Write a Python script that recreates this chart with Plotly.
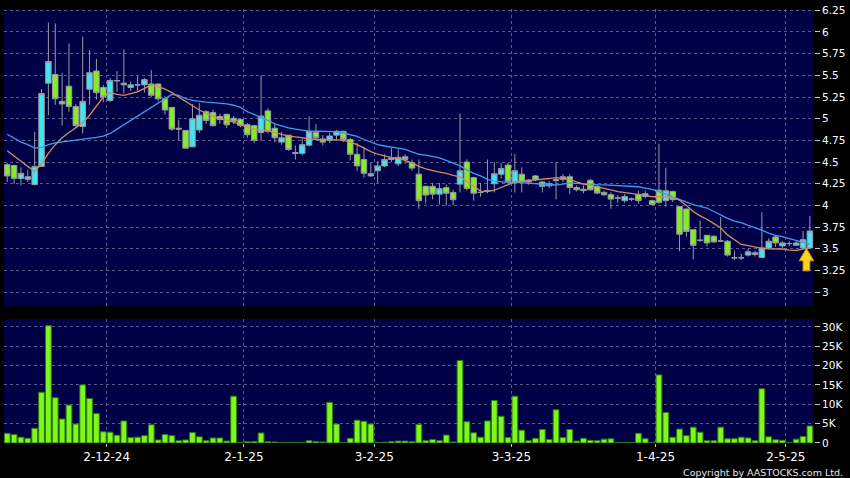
import plotly.graph_objects as go

# ---------------- data ----------------
opens = [4.47, 4.46, 4.31, 4.33, 4.24, 4.45, 5.41, 5.51, 5.20, 5.375,
         5.14, 4.91, 5.34, 5.55, 5.36, 5.21, 5.435, 5.41, 5.36, 5.39,
         5.39, 5.40, 5.40, 5.23, 5.13, 4.89, 4.865, 4.675, 4.87, 5.08,
         5.07, 5.025, 5.05, 5.005, 4.99, 4.93, 4.92, 4.84, 5.09, 4.89,
         4.73, 4.81, 4.61, 4.60, 4.695, 4.84, 4.765, 4.75, 4.81, 4.855,
         4.76, 4.59, 4.53, 4.34, 4.40, 4.455, 4.53, 4.48, 4.56, 4.49,
         4.36, 4.22, 4.22, 4.13, 4.205, 4.15, 4.245, 4.50, 4.32, 4.15,
         4.17, 4.25, 4.36, 4.465, 4.275, 4.36, 4.29, 4.34, 4.27, 4.226,
         4.30, 4.30, 4.33, 4.207, 4.187, 4.29, 4.218, 4.15, 4.123, 4.085,
         4.055, 4.073, 4.123, 4.104, 4.055, 4.176, 4.055, 4.161, 3.986, 3.959,
         3.72, 3.598, 3.655, 3.644, 3.59, 3.587, 3.396, 3.396, 3.427, 3.434,
         3.40, 3.51, 3.636, 3.533, 3.56, 3.541, 3.51, 3.51]
highs = [4.49, 4.47, 4.44, 4.41, 4.85, 5.34, 6.11, 6.10, 5.53, 5.87,
         5.17, 5.945, 5.79, 5.69, 5.39, 5.47, 5.55, 5.80, 5.43, 5.49,
         5.47, 5.56, 5.40, 5.26, 5.13, 4.99, 4.87, 5.17, 5.18, 5.10,
         5.10, 5.06, 5.06, 5.03, 5.00, 4.95, 4.93, 5.50, 5.12, 4.94,
         4.85, 4.81, 4.69, 4.77, 5.025, 4.94, 4.81, 4.84, 4.87, 4.86,
         4.78, 4.72, 4.68, 4.49, 4.51, 4.59, 4.66, 4.66, 4.59, 4.53,
         4.53, 4.23, 4.26, 4.26, 4.24, 4.18, 5.06, 4.53, 4.33, 4.26,
         4.53, 4.50, 4.49, 4.49, 4.59, 4.44, 4.30, 4.35, 4.28, 4.28,
         4.50, 4.36, 4.36, 4.23, 4.23, 4.30, 4.24, 4.17, 4.15, 4.12,
         4.13, 4.09, 4.17, 4.17, 4.07, 4.71, 4.435, 4.17, 3.99, 3.96,
         3.72, 3.826, 3.66, 3.655, 3.864, 3.60, 3.48, 3.44, 3.50, 3.48,
         3.92, 3.62, 3.655, 3.587, 3.587, 3.587, 3.705, 3.88]
lows = [4.27, 4.25, 4.23, 4.27, 4.23, 4.45, 5.04, 5.16, 4.92, 5.08,
        4.89, 4.83, 5.16, 5.22, 5.19, 5.19, 5.31, 5.29, 5.32, 5.31,
        5.30, 5.25, 5.20, 5.05, 4.86, 4.75, 4.655, 4.67, 4.84, 4.94,
        4.91, 4.94, 4.89, 4.94, 4.90, 4.78, 4.72, 4.74, 4.83, 4.73,
        4.70, 4.63, 4.53, 4.58, 4.68, 4.76, 4.69, 4.72, 4.76, 4.73,
        4.52, 4.40, 4.32, 4.33, 4.26, 4.44, 4.50, 4.45, 4.48, 4.40,
        3.96, 4.02, 4.07, 4.01, 4.00, 4.00, 4.15, 4.17, 4.055, 4.10,
        4.14, 4.15, 4.31, 4.25, 4.15, 4.15, 4.24, 4.28, 4.15, 4.20,
        4.07, 4.27, 4.13, 4.16, 4.14, 4.17, 4.13, 4.11, 3.96, 4.03,
        4.03, 4.05, 4.02, 4.08, 4.00, 4.02, 3.986, 4.04, 3.47, 3.64,
        3.38, 3.58, 3.53, 3.57, 3.58, 3.41, 3.37, 3.37, 3.41, 3.41,
        3.40, 3.50, 3.52, 3.51, 3.53, 3.53, 3.50, 3.50]
closes = [4.34, 4.31, 4.37, 4.30, 4.45, 5.29, 5.66, 5.23, 5.17, 5.14,
          4.92, 5.20, 5.53, 5.30, 5.25, 5.44, 5.44, 5.39, 5.39, 5.39,
          5.45, 5.27, 5.23, 5.10, 4.88, 4.88, 4.66, 5.00, 5.04, 4.98,
          4.92, 4.99, 4.93, 4.97, 4.92, 4.815, 4.75, 5.03, 4.855, 4.78,
          4.78, 4.645, 4.60, 4.70, 4.855, 4.78, 4.73, 4.80, 4.855, 4.76,
          4.59, 4.455, 4.37, 4.365, 4.455, 4.53, 4.55, 4.555, 4.53, 4.43,
          4.055, 4.12, 4.13, 4.195, 4.14, 4.065, 4.40, 4.195, 4.14, 4.15,
          4.17, 4.365, 4.425, 4.275, 4.40, 4.27, 4.27, 4.295, 4.22, 4.25,
          4.285, 4.33, 4.207, 4.18, 4.17, 4.18, 4.142, 4.123, 4.073, 4.085,
          4.104, 4.073, 4.055, 4.135, 4.01, 4.035, 4.169, 4.066, 3.667, 3.70,
          3.54, 3.598, 3.567, 3.579, 3.59, 3.427, 3.396, 3.396, 3.465, 3.453,
          3.51, 3.587, 3.567, 3.567, 3.56, 3.567, 3.605, 3.705]
ma_short = [4.63, 4.57, 4.50, 4.44, 4.39, 4.48, 4.60, 4.70, 4.78, 4.84,
            4.89, 4.95, 5.04, 5.15, 5.25, 5.30, 5.28, 5.27, 5.29, 5.31,
            5.35, 5.39, 5.37, 5.34, 5.30, 5.25, 5.19, 5.14, 5.10, 5.06,
            5.03, 5.00, 4.98, 4.96, 4.93, 4.90, 4.88, 4.87, 4.86, 4.84,
            4.82, 4.80, 4.79, 4.78, 4.77, 4.76, 4.76, 4.76, 4.755, 4.75,
            4.73, 4.70, 4.66, 4.62, 4.59, 4.57, 4.55, 4.54, 4.52, 4.49,
            4.45, 4.42, 4.40, 4.385, 4.37, 4.345, 4.33, 4.28, 4.22, 4.165,
            4.16, 4.175, 4.21, 4.24, 4.265, 4.28, 4.29, 4.295, 4.30, 4.31,
            4.32, 4.31, 4.30, 4.27, 4.245, 4.23, 4.215, 4.20, 4.18, 4.16,
            4.15, 4.14, 4.13, 4.115, 4.10, 4.10, 4.10, 4.09, 4.06, 4.00,
            3.93, 3.88, 3.84, 3.79, 3.74, 3.66, 3.60, 3.55, 3.535, 3.52,
            3.505, 3.50, 3.50, 3.497, 3.485, 3.48, 3.495, 3.51]
ma_long = [4.82, 4.77, 4.73, 4.70, 4.66, 4.67, 4.70, 4.72, 4.73, 4.74,
           4.75, 4.76, 4.77, 4.785, 4.80, 4.83, 4.88, 4.93, 4.98, 5.03,
           5.08, 5.13, 5.18, 5.23, 5.28, 5.27, 5.23, 5.21, 5.196, 5.19,
           5.186, 5.18, 5.17, 5.155, 5.13, 5.08, 5.05, 5.01, 4.98, 4.94,
           4.915, 4.895, 4.88, 4.865, 4.857, 4.855, 4.855, 4.855, 4.85, 4.835,
           4.815, 4.795, 4.76, 4.73, 4.70, 4.685, 4.675, 4.66, 4.645, 4.62,
           4.59, 4.58, 4.565, 4.548, 4.52, 4.49, 4.455, 4.41, 4.37, 4.34,
           4.30, 4.28, 4.27, 4.265, 4.265, 4.26, 4.255, 4.245, 4.24, 4.235,
           4.235, 4.245, 4.26, 4.255, 4.248, 4.244, 4.24, 4.237, 4.232, 4.228,
           4.225, 4.222, 4.215, 4.20, 4.185, 4.16, 4.13, 4.10, 4.07, 4.04,
           4.01, 3.99, 3.97, 3.93, 3.89, 3.85, 3.82, 3.80, 3.77, 3.745,
           3.715, 3.68, 3.655, 3.64, 3.62, 3.60, 3.575, 3.55]
volumes = [2500, 2200, 1500, 1200, 3800, 13100, 30300, 11700, 6200, 9800,
           4900, 15000, 11500, 7600, 2900, 2800, 2000, 5700, 1400, 1500,
           1900, 4700, 800, 2200, 1900, 600, 800, 2700, 1600, 600,
           1300, 1300, 500, 12100, 100, 300, 400, 2600, 300, 250,
           150, 150, 150, 150, 600, 400, 250, 10500, 4900, 150,
           1200, 5900, 5600, 4900, 100, 200, 400, 500, 500, 400,
           4800, 600, 900, 600, 2050, 250, 21300, 5500, 2650, 1500,
           5700, 11000, 6900, 1400, 12100, 3300, 600, 1200, 3500, 900,
           8600, 1400, 3500, 500, 1200, 700, 600, 1000, 1100, 150,
           150, 150, 2500, 1100, 150, 17600, 7900, 1500, 3600, 1900,
           4100, 2800, 600, 600, 4100, 1100, 1100, 1500, 1300, 600,
           14000, 1600, 850, 700, 50, 1000, 1700, 4400]
date_tick_index = [15, 35, 54, 74, 95, 114]
date_tick_labels = ["2-12-24", "2-1-25", "3-2-25", "3-3-25", "1-4-25", "2-5-25"]
price_ticks = [3, 3.25, 3.5, 3.75, 4, 4.25, 4.5, 4.75, 5, 5.25, 5.5, 5.75, 6, 6.25]
price_tick_labels = ["3", "3.25", "3.5", "3.75", "4", "4.25", "4.5", "4.75",
                     "5", "5.25", "5.5", "5.75", "6", "6.25"]
volume_ticks = [0, 5000, 10000, 15000, 20000, 25000, 30000]
volume_tick_labels = ["0", "5K", "10K", "15K", "20K", "25K", "30K"]

# ---------------- figure ----------------
n = len(closes)
xs = list(range(n))
FONT = "DejaVu Sans"
GRID = "#5a5a8c"
UP_FILL = "#3ee6f0"
DOWN_FILL = "#84ee22"
WICK = "#9a9aa4"

fig = go.Figure()

fig.add_trace(go.Candlestick(
    x=xs, open=opens, high=highs, low=lows, close=closes,
    xaxis="x2", yaxis="y2",
    increasing=dict(fillcolor=UP_FILL, line=dict(color=WICK, width=1)),
    decreasing=dict(fillcolor=DOWN_FILL, line=dict(color=WICK, width=1)),
    whiskerwidth=0, showlegend=False, hoverinfo="skip",
))
fig.add_trace(go.Scatter(x=xs, y=ma_long, mode="lines", xaxis="x2", yaxis="y2",
                         line=dict(color="#3c9ee6", width=1.3), showlegend=False,
                         hoverinfo="skip"))
fig.add_trace(go.Scatter(x=xs, y=ma_short, mode="lines", xaxis="x2", yaxis="y2",
                         line=dict(color="#d48a62", width=1.3), showlegend=False,
                         hoverinfo="skip"))

fig.add_trace(go.Bar(x=xs, y=volumes, xaxis="x", yaxis="y",
                     marker=dict(color="#7cf81c", line=dict(color="#2f7a0c", width=1)),
                     showlegend=False, hoverinfo="skip"))

# yellow arrow under the latest candles
fig.add_shape(type="path", xref="x2", yref="y2",
              xsizemode="pixel", ysizemode="pixel",
              xanchor=n - 1.5, yanchor=closes[-1] - 0.2,
              path="M 0,0 L 7.3,-12.5 L 3.4,-12.5 L 3.4,-22.5 L -3.4,-22.5 L -3.4,-12.5 L -7.3,-12.5 Z",
              fillcolor="#ffd21e", line=dict(color="#c89400", width=1))

tickvals_x = [i - 0.5 for i in date_tick_index]
xr = [-0.47, n - 0.4]

fig.update_layout(
    width=850, height=478,
    margin=dict(l=4, r=36, t=5, b=35),
    paper_bgcolor="#000000",
    plot_bgcolor="#000046",
    bargap=0.16,
    boxgap=0.2,
    boxgroupgap=0,
    font=dict(family=FONT, color="#ffffff"),
    xaxis=dict(domain=[0, 1], anchor="y", range=xr,
               tickmode="array", tickvals=tickvals_x, ticktext=date_tick_labels,
               ticks="outside", ticklen=3, tickcolor="#c8c8c8",
               tickfont=dict(size=12, color="#ffffff", family=FONT),
               showgrid=True, gridcolor=GRID, griddash="3px,3px", gridwidth=1,
               zeroline=False, showline=False),
    xaxis2=dict(domain=[0, 1], anchor="y2", range=xr, matches="x",
                tickmode="array", tickvals=tickvals_x, showticklabels=False,
                ticks="", showgrid=True, gridcolor=GRID, griddash="3px,3px",
                gridwidth=1, zeroline=False, showline=False,
                rangeslider=dict(visible=False)),
    yaxis=dict(domain=[0, 0.2854], anchor="x", side="right", range=[0, 32000],
               tickmode="array", tickvals=volume_ticks, ticktext=volume_tick_labels,
               ticks="outside", ticklen=5, tickcolor="#c8c8c8",
               tickfont=dict(size=10.5, color="#ffffff", family=FONT),
               showgrid=True, gridcolor=GRID, griddash="3px,3px", gridwidth=1,
               zeroline=False, showline=False, ticklabeloverflow="allow"),
    yaxis2=dict(domain=[0.3151, 1], anchor="x2", side="right", range=[2.837, 6.265],
                tickmode="array", tickvals=price_ticks, ticktext=price_tick_labels,
                ticks="outside", ticklen=5, tickcolor="#c8c8c8",
                tickfont=dict(size=10.5, color="#ffffff", family=FONT),
                showgrid=True, gridcolor=GRID, griddash="3px,3px", gridwidth=1,
                zeroline=False, showline=False, ticklabeloverflow="allow"),
)

fig.add_annotation(text="Copyright by AASTOCKS.com Ltd.", xref="paper", yref="paper",
                   x=1, y=-0.068, xanchor="right", yanchor="middle", xshift=31,
                   showarrow=False, font=dict(size=9.5, color="#e6e6e6", family=FONT))

fig.write_html("out.html", config={"displayModeBar": False},
               post_script="document.body.style.margin='0';document.body.style.background='#000';")
